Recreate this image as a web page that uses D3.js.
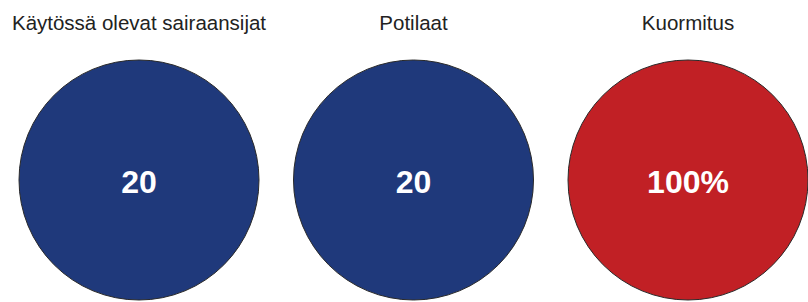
<!DOCTYPE html>
<html>
<head>
<meta charset="utf-8">
<script src="https://cdn.jsdelivr.net/npm/d3@7"></script>
<style>
  body { margin: 0; background: #fff; }
  svg { display: block; font-family: "Liberation Sans", Arial, sans-serif; }
</style>
</head>
<body>
<div id="chart"></div>
<script>
// data
let categories = ["Käytössä olevat sairaansijat", "Potilaat", "Kuormitus"]
let values = [20, 20, 100]
let units = ["", "", "%"]

let width = 808,
    height = 302

let margin = {
    top: 60,
    right: 120,
    bottom: 2,
    left: 139
}

let radius = 120

let xScale = d3.scalePoint()
    .domain(categories)
    .range([margin.left, width - margin.right])

let color = d3.scaleOrdinal()
    .domain(categories)
    .range(["#1f397b", "#1f397b", "#c12025"])

let svg = d3.select("#chart")
    .append("svg")
    .attr("width", width)
    .attr("height", height)

let cy = margin.top + radius

let groups = svg.selectAll("g.ball")
    .data(categories)
    .enter()
    .append("g")
    .attr("class", "ball")
    .attr("transform", function (d) {
        return "translate(" + xScale(d) + ",0)"
    })

// titles
groups.append("text")
    .attr("y", 30)
    .attr("text-anchor", "middle")
    .attr("font-size", "20.5px")
    .attr("fill", "#222")
    .text(function (d) { return d })

// circles
groups.append("circle")
    .attr("cy", cy)
    .attr("r", radius)
    .attr("fill", function (d) { return color(d) })
    .attr("stroke", "#2a2a2a")
    .attr("stroke-width", 1)

// values
groups.append("text")
    .attr("y", cy + 13)
    .attr("text-anchor", "middle")
    .attr("font-size", "32px")
    .attr("font-weight", "bold")
    .attr("fill", "#fff")
    .text(function (d, i) { return values[i] + units[i] })
</script>
</body>
</html>
